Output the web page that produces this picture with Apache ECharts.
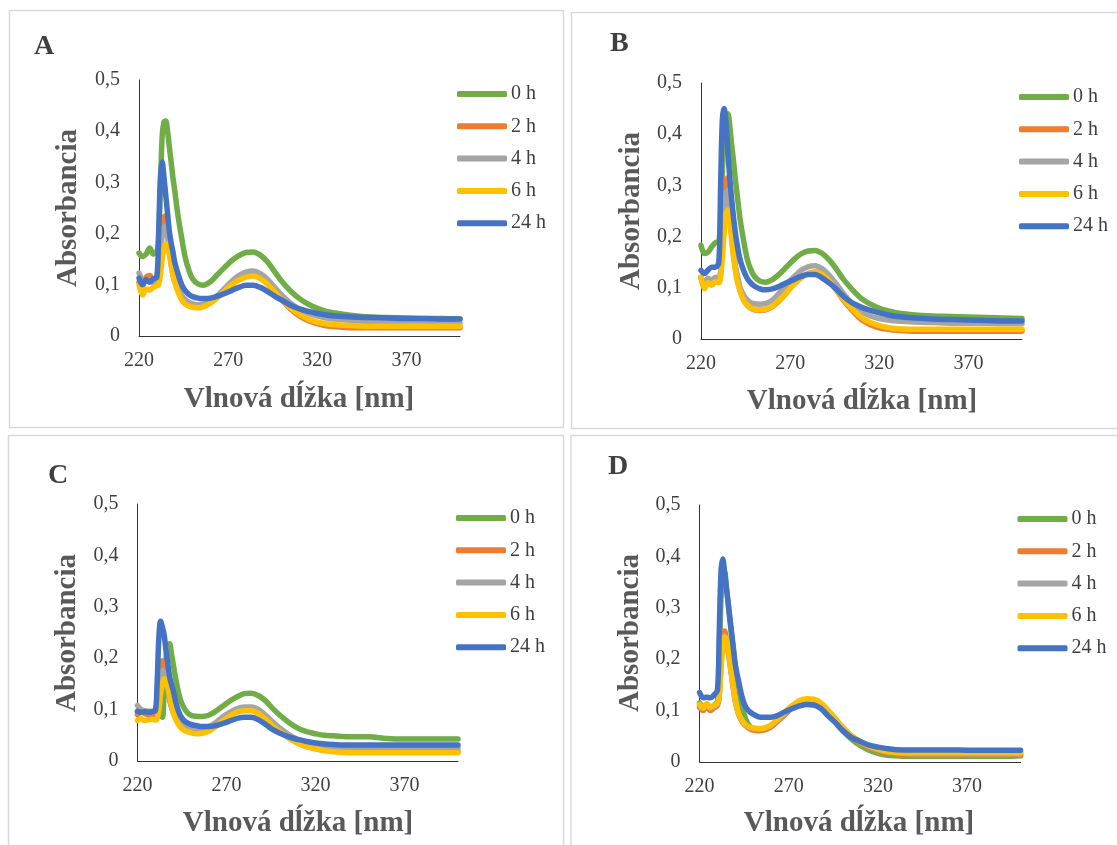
<!DOCTYPE html>
<html>
<head>
<meta charset="utf-8">
<script src="https://cdn.jsdelivr.net/npm/echarts@6/dist/echarts.min.js"></script>
<style>
html,body{margin:0;padding:0;background:#fff;}
#c{width:1117px;height:845px;}
</style>
</head>
<body>
<div id="c"></div>
<script>
// ---- DATA ----
const wl = [220,222,224,226,228,230,231,232,233,234,235,236,237,238,239,240,242,244,246,248,250,253,256,260,264,268,272,276,280,284,288,292,296,300,305,310,315,320,325,330,340,350,360,370,380,390,400];
const seriesNames = ['0 h','2 h','4 h','6 h','24 h'];
const panelLetters = ['A','B','C','D'];
const xTicks = [220,270,320,370];
const yTicks = [0,0.1,0.2,0.3,0.4,0.5];

// Panel A
const a0  = [0.162,0.155,0.160,0.172,0.160,0.165,0.19,0.29,0.39,0.418,0.42,0.40,0.37,0.34,0.31,0.285,0.232,0.19,0.152,0.128,0.112,0.102,0.099,0.106,0.120,0.134,0.147,0.157,0.163,0.164,0.158,0.145,0.126,0.107,0.088,0.073,0.062,0.054,0.048,0.045,0.040,0.037,0.036,0.035,0.034,0.034,0.033];
const a2  = [0.105,0.100,0.115,0.118,0.105,0.108,0.12,0.17,0.21,0.232,0.235,0.215,0.185,0.155,0.13,0.115,0.09,0.075,0.067,0.062,0.059,0.058,0.059,0.065,0.076,0.089,0.101,0.111,0.118,0.120,0.116,0.105,0.088,0.071,0.053,0.039,0.030,0.024,0.020,0.018,0.016,0.016,0.016,0.016,0.016,0.016,0.016];
const a4  = [0.123,0.110,0.108,0.110,0.105,0.108,0.12,0.16,0.195,0.212,0.215,0.195,0.165,0.14,0.12,0.108,0.092,0.079,0.071,0.066,0.063,0.061,0.062,0.068,0.079,0.093,0.107,0.118,0.125,0.127,0.122,0.111,0.095,0.080,0.064,0.052,0.044,0.039,0.035,0.033,0.030,0.028,0.027,0.026,0.026,0.025,0.025];
const a6  = [0.100,0.080,0.092,0.090,0.095,0.098,0.10,0.12,0.15,0.17,0.18,0.178,0.16,0.14,0.12,0.105,0.085,0.070,0.062,0.058,0.056,0.055,0.057,0.064,0.075,0.088,0.100,0.109,0.115,0.117,0.112,0.101,0.086,0.071,0.055,0.042,0.033,0.027,0.024,0.022,0.020,0.019,0.019,0.019,0.019,0.019,0.019];
const a24 = [0.113,0.100,0.110,0.105,0.112,0.115,0.20,0.31,0.34,0.31,0.275,0.24,0.205,0.182,0.165,0.145,0.12,0.10,0.088,0.081,0.077,0.074,0.073,0.074,0.078,0.083,0.089,0.095,0.099,0.099,0.095,0.087,0.078,0.070,0.060,0.053,0.048,0.044,0.041,0.039,0.037,0.036,0.035,0.034,0.034,0.033,0.033];

// Panel B
const b0  = [0.183,0.167,0.170,0.180,0.188,0.19,0.25,0.33,0.40,0.435,0.44,0.42,0.385,0.355,0.32,0.29,0.232,0.19,0.155,0.135,0.122,0.113,0.111,0.116,0.127,0.141,0.155,0.166,0.172,0.173,0.167,0.154,0.136,0.116,0.096,0.079,0.068,0.060,0.055,0.051,0.047,0.045,0.044,0.043,0.042,0.041,0.040];
const b2  = [0.120,0.100,0.118,0.112,0.118,0.115,0.13,0.20,0.27,0.31,0.315,0.28,0.23,0.185,0.15,0.125,0.095,0.077,0.066,0.060,0.057,0.056,0.057,0.063,0.075,0.091,0.107,0.120,0.128,0.131,0.127,0.114,0.095,0.075,0.055,0.038,0.028,0.022,0.019,0.017,0.015,0.015,0.015,0.015,0.015,0.015,0.015];
const b4  = [0.121,0.110,0.118,0.115,0.120,0.120,0.13,0.19,0.25,0.285,0.29,0.26,0.215,0.175,0.145,0.13,0.10,0.085,0.076,0.071,0.069,0.068,0.069,0.076,0.090,0.106,0.121,0.134,0.141,0.143,0.137,0.124,0.107,0.088,0.068,0.054,0.045,0.040,0.037,0.035,0.033,0.032,0.031,0.031,0.031,0.030,0.030];
const b6  = [0.121,0.098,0.110,0.105,0.112,0.110,0.12,0.16,0.21,0.245,0.252,0.23,0.20,0.165,0.14,0.118,0.092,0.075,0.066,0.061,0.058,0.057,0.058,0.064,0.076,0.091,0.106,0.119,0.127,0.130,0.126,0.113,0.095,0.077,0.058,0.042,0.032,0.026,0.022,0.020,0.019,0.019,0.019,0.019,0.019,0.019,0.019];
const b24 = [0.134,0.128,0.135,0.140,0.140,0.150,0.30,0.43,0.45,0.42,0.37,0.32,0.28,0.245,0.215,0.19,0.154,0.133,0.118,0.109,0.103,0.098,0.096,0.098,0.103,0.110,0.116,0.122,0.126,0.126,0.119,0.109,0.097,0.083,0.070,0.062,0.056,0.051,0.047,0.044,0.041,0.039,0.038,0.037,0.036,0.035,0.035];

// Panel C
const c0  = [0.095,0.095,0.095,0.095,0.095,0.095,0.093,0.090,0.088,0.085,0.14,0.20,0.225,0.228,0.21,0.19,0.15,0.12,0.104,0.094,0.089,0.087,0.0865,0.089,0.097,0.107,0.117,0.125,0.131,0.132,0.127,0.117,0.102,0.089,0.075,0.064,0.057,0.053,0.050,0.049,0.047,0.047,0.044,0.043,0.043,0.043,0.043];
const c2  = [0.090,0.095,0.092,0.090,0.088,0.090,0.10,0.16,0.19,0.195,0.18,0.16,0.14,0.12,0.105,0.095,0.080,0.069,0.063,0.059,0.057,0.056,0.057,0.062,0.071,0.082,0.092,0.099,0.102,0.102,0.097,0.086,0.072,0.058,0.045,0.035,0.028,0.024,0.021,0.020,0.019,0.018,0.018,0.018,0.018,0.018,0.018];
const c4  = [0.108,0.100,0.098,0.097,0.097,0.098,0.10,0.14,0.168,0.176,0.17,0.155,0.14,0.122,0.108,0.10,0.085,0.075,0.069,0.066,0.064,0.062,0.063,0.067,0.075,0.086,0.095,0.102,0.105,0.105,0.100,0.089,0.076,0.064,0.051,0.042,0.035,0.031,0.029,0.027,0.026,0.025,0.025,0.025,0.025,0.025,0.025];
const c6  = [0.079,0.082,0.079,0.080,0.081,0.080,0.082,0.10,0.13,0.15,0.16,0.158,0.145,0.128,0.11,0.095,0.077,0.066,0.060,0.057,0.055,0.053,0.054,0.058,0.067,0.078,0.088,0.095,0.098,0.098,0.092,0.081,0.068,0.057,0.045,0.035,0.028,0.024,0.020,0.018,0.016,0.016,0.016,0.016,0.016,0.016,0.016];
const c24 = [0.097,0.095,0.096,0.095,0.096,0.098,0.15,0.24,0.272,0.26,0.245,0.215,0.19,0.165,0.15,0.138,0.108,0.089,0.079,0.074,0.071,0.069,0.067,0.067,0.069,0.073,0.078,0.083,0.085,0.085,0.080,0.071,0.061,0.054,0.047,0.042,0.038,0.035,0.033,0.032,0.031,0.031,0.031,0.031,0.031,0.031,0.031];

// Panel D
const d0  = [0.115,0.108,0.112,0.106,0.110,0.118,0.20,0.32,0.36,0.37,0.34,0.31,0.275,0.245,0.215,0.185,0.145,0.105,0.082,0.070,0.065,0.062,0.063,0.069,0.081,0.094,0.106,0.115,0.119,0.119,0.111,0.096,0.079,0.062,0.045,0.032,0.023,0.017,0.013,0.012,0.011,0.011,0.011,0.011,0.011,0.011,0.012];
const d2  = [0.106,0.100,0.110,0.100,0.105,0.110,0.13,0.20,0.245,0.255,0.24,0.22,0.195,0.17,0.145,0.12,0.092,0.078,0.070,0.065,0.062,0.061,0.062,0.068,0.080,0.093,0.106,0.115,0.120,0.120,0.113,0.098,0.082,0.066,0.049,0.037,0.028,0.022,0.018,0.016,0.014,0.014,0.014,0.014,0.014,0.014,0.014];
const d4  = [0.110,0.104,0.112,0.104,0.108,0.112,0.13,0.19,0.235,0.245,0.235,0.215,0.19,0.165,0.14,0.118,0.092,0.079,0.071,0.067,0.065,0.064,0.065,0.071,0.083,0.096,0.108,0.117,0.121,0.121,0.114,0.100,0.084,0.068,0.051,0.039,0.030,0.024,0.020,0.018,0.016,0.016,0.016,0.016,0.016,0.016,0.016];
const d6  = [0.112,0.105,0.114,0.106,0.110,0.114,0.13,0.18,0.225,0.243,0.24,0.22,0.195,0.168,0.142,0.12,0.093,0.080,0.072,0.068,0.066,0.065,0.066,0.072,0.084,0.098,0.110,0.119,0.123,0.122,0.115,0.101,0.085,0.069,0.052,0.040,0.031,0.025,0.021,0.019,0.018,0.018,0.018,0.018,0.018,0.018,0.018];
const d24 = [0.135,0.125,0.126,0.125,0.130,0.140,0.25,0.37,0.395,0.37,0.34,0.31,0.28,0.25,0.22,0.19,0.155,0.124,0.106,0.098,0.093,0.088,0.087,0.087,0.091,0.098,0.104,0.109,0.112,0.111,0.104,0.090,0.077,0.062,0.048,0.040,0.033,0.029,0.026,0.024,0.0235,0.0235,0.0235,0.023,0.023,0.023,0.023];

const panelData = [[a0,a2,a4,a6,a24],[b0,b2,b4,b6,b24],[c0,c2,c4,c6,c24],[d0,d2,d4,d6,d24]];
const colors = ['#70AD47','#ED7D31','#A5A5A5','#FFC000','#4472C4'];

// ---- LAYOUT ----
const serif = "'Liberation Serif','Times New Roman',serif";
const layout = [
  {grid:{left:139,top:80,width:321,height:256}, box:[9.5,10.5,554,417], letter:[34,47], yTitle:[69,208], xTitle:[299,400], legend:[457,84]},
  {grid:{left:701,top:83,width:321,height:256}, box:[571.5,12.5,560,416], letter:[610,44], yTitle:[632,211], xTitle:[862,402], legend:[1019,87]},
  {grid:{left:137.5,top:504,width:320.5,height:257}, box:[8.5,435.5,555,420], letter:[48,476], yTitle:[68,633], xTitle:[298,824], legend:[456,508]},
  {grid:{left:699.6,top:505,width:321,height:257}, box:[571,435.5,560,420], letter:[608,467], yTitle:[631,633], xTitle:[859,824], legend:[1017.5,509]}
];

const grids=[], xAxes=[], yAxes=[], series=[], legends=[], graphics=[];
layout.forEach((p,i)=>{
  grids.push(Object.assign({containLabel:false}, p.grid));
  xAxes.push({
    type:'value', gridIndex:i, min:220, max:400, interval:50,
    axisLine:{show:true, onZero:false, lineStyle:{color:'#333', width:1}},
    axisTick:{show:false}, splitLine:{show:false},
    axisLabel:{margin:15, fontFamily:serif, fontSize:20, color:'#404040',
      formatter:v=> xTicks.indexOf(v) >= 0 ? String(v) : ''}
  });
  yAxes.push({
    type:'value', gridIndex:i, min:0, max:0.5, interval:0.1,
    axisLine:{show:true, onZero:false, lineStyle:{color:'#333', width:1}},
    axisTick:{show:false}, splitLine:{show:false},
    axisLabel:{margin:19, fontFamily:serif, fontSize:20, color:'#404040',
      formatter:v=> v===0 ? '0' : v.toFixed(1).replace('.',',')}
  });
  panelData[i].forEach((arr,k)=>{
    series.push({
      name:seriesNames[k], type:'line', xAxisIndex:i, yAxisIndex:i,
      data: wl.map((x,j)=>[x, arr[j]]),
      showSymbol:false, smooth:0.35, color:colors[k],
      lineStyle:{width:5.5, color:colors[k], cap:'round', join:'round'},
      emphasis:{disabled:true}, z:2+k
    });
  });
  legends.push({
    data:seriesNames, orient:'vertical', left:p.legend[0], top:p.legend[1],
    padding:0, itemWidth:50, itemHeight:6, itemGap:12.3, icon:'roundRect',
    selectedMode:false,
    textStyle:{fontFamily:serif, fontSize:20, color:'#404040', lineHeight:20, padding:[0,0,0,-1]}
  });
  graphics.push({type:'rect', shape:{x:p.box[0], y:p.box[1], width:p.box[2], height:p.box[3]},
    style:{fill:'none', stroke:'#d9d9d9', lineWidth:1.5}, silent:true});
  graphics.push({type:'text', x:p.letter[0], y:p.letter[1],
    style:{text:panelLetters[i], font:"bold 28px "+serif, fill:'#404040',
      textAlign:'left', textVerticalAlign:'middle', align:'left', verticalAlign:'middle'}});
  graphics.push({type:'text', x:p.yTitle[0], y:p.yTitle[1], rotation:Math.PI/2,
    style:{text:'Absorbancia', font:"bold 29px "+serif, fill:'#595959',
      textAlign:'center', textVerticalAlign:'middle', align:'center', verticalAlign:'middle'}});
  graphics.push({type:'text', x:p.xTitle[0], y:p.xTitle[1],
    style:{text:'Vlnová dĺžka [nm]', font:"bold 29px "+serif, fill:'#595959',
      textAlign:'center', textVerticalAlign:'middle', align:'center', verticalAlign:'middle'}});
});

const chart = echarts.init(document.getElementById('c'), null, {renderer:'canvas'});
chart.setOption({
  animation:false,
  backgroundColor:'#fff',
  grid:grids, xAxis:xAxes, yAxis:yAxes, series:series, legend:legends,
  graphic:graphics
});
</script>
</body>
</html>
